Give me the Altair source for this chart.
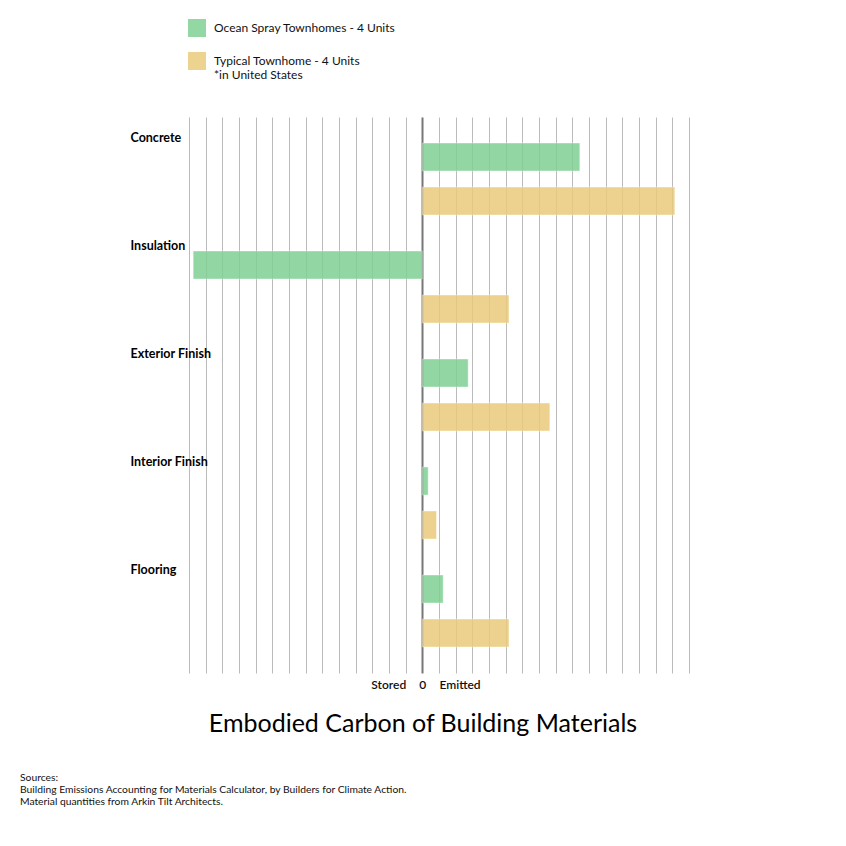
import altair as alt
import pandas as pd

# ---- data ----
categories = ["Concrete", "Insulation", "Exterior Finish", "Interior Finish", "Flooring"]
series_names = ["Ocean Spray Townhomes - 4 Units", "Typical Townhome - 4 Units"]
series_note = "*in United States"
ocean_values = [9.45, -13.75, 2.75, 0.35, 1.25]
typical_values = [15.15, 5.2, 7.65, 0.85, 5.2]
grid_ticks = list(range(-14, 17))
stored_label, zero_label, emitted_label = "Stored", "0", "Emitted"
title_text = "Embodied Carbon of Building Materials"
sources_lines = [
    "Sources:",
    "Building Emissions Accounting for Materials Calculator, by Builders for Climate Action.",
    "Material quantities from Arkin Tilt Architects.",
]
colors = ["#80D094", "#EACB7C"]

rows = []
for c, o, t in zip(categories, ocean_values, typical_values):
    rows.append({"category": c, "series": series_names[0], "value": o})
    rows.append({"category": c, "series": series_names[1], "value": t})
df = pd.DataFrame(rows)

FONT = "Lato"

label_expr = (
    f"datum.value == -1 ? '{stored_label}' : datum.value == 0 ? '{zero_label}' : "
    f"datum.value == 1 ? '{emitted_label}' : ''"
)

bars = alt.Chart(df).mark_bar(opacity=0.85, stroke="white", strokeOpacity=0.4, strokeWidth=1).encode(
    x=alt.X(
        "value:Q",
        scale=alt.Scale(domain=[-14, 16], nice=False, zero=False),
        axis=alt.Axis(
            title=None,
            values=grid_ticks,
            labelExpr=label_expr,
            labelOverlap=False,
            labelBound=False,
            domain=False,
            ticks=False,
            grid=True,
            gridColor={"condition": {"test": "datum.value === 0", "value": "#777777"}, "value": "#bbbbbb"},
            gridWidth={"condition": {"test": "datum.value === 0", "value": 2}, "value": 1},
            labelAlign={
                "condition": [
                    {"test": "datum.value < 0", "value": "right"},
                    {"test": "datum.value > 0", "value": "left"},
                ],
                "value": "center",
            },
            labelFont=FONT,
            labelFontSize=12,
            labelFontWeight=600,
            labelColor="#111111",
            labelPadding=6,
        ),
    ),
    y=alt.Y(
        "category:N",
        sort=categories,
        scale=alt.Scale(paddingInner=0, paddingOuter=0.074),
        axis=alt.Axis(
            title=None,
            domain=False,
            ticks=False,
            grid=False,
            labelAlign="left",
            labelPadding=59,
            labelOffset=-41,
            labelFont=FONT,
            labelFontSize=12.5,
            labelFontWeight="bold",
            labelColor="#000000",
        ),
    ),
    yOffset=alt.YOffset(
        "series:N",
        sort=series_names,
        scale=alt.Scale(paddingInner=0.3636, paddingOuter=0.409),
    ),
    color=alt.Color(
        "series:N",
        sort=series_names,
        scale=alt.Scale(domain=series_names, range=colors),
        legend=alt.Legend(
            title=None,
            orient="none",
            legendX=-1,
            legendY=-98,
            symbolType="square",
            symbolSize=324,
            symbolStrokeWidth=0,
            symbolOpacity=0.85,
            labelFont=FONT,
            labelFontSize=12,
            labelColor="#111111",
            labelOffset=8,
            labelBaseline="middle",
            rowPadding=15,
            labelLimit=400,
            labelExpr=(
                f"datum.label == '{series_names[1]}' ? ['{series_names[1]}', '{series_note}'] : datum.label"
            ),
        ),
    ),
)

title_df = pd.DataFrame({"text": [title_text]})
title = alt.Chart(title_df).mark_text(
    align="center", baseline="middle", font=FONT, fontSize=25, color="#000000"
).encode(
    text="text:N",
    x=alt.value(234),
    y=alt.value(607),
)

sources_df = pd.DataFrame({"text": ["\n".join(sources_lines)]})
sources = alt.Chart(sources_df).mark_text(
    align="left", baseline="top", font=FONT, fontSize=10.3, lineHeight=12, color="#111111", lineBreak="\n"
).encode(
    text="text:N",
    x=alt.value(-169),
    y=alt.value(656),
)

chart = alt.layer(bars, title, sources).properties(
    width=500,
    height=556,
    autosize=alt.AutoSizeParams(type="none"),
    padding={"left": 181, "top": 109, "right": 149, "bottom": 165},
).configure_view(stroke=None)

chart.save("out.html", embed_options={"renderer": "svg", "actions": False})
